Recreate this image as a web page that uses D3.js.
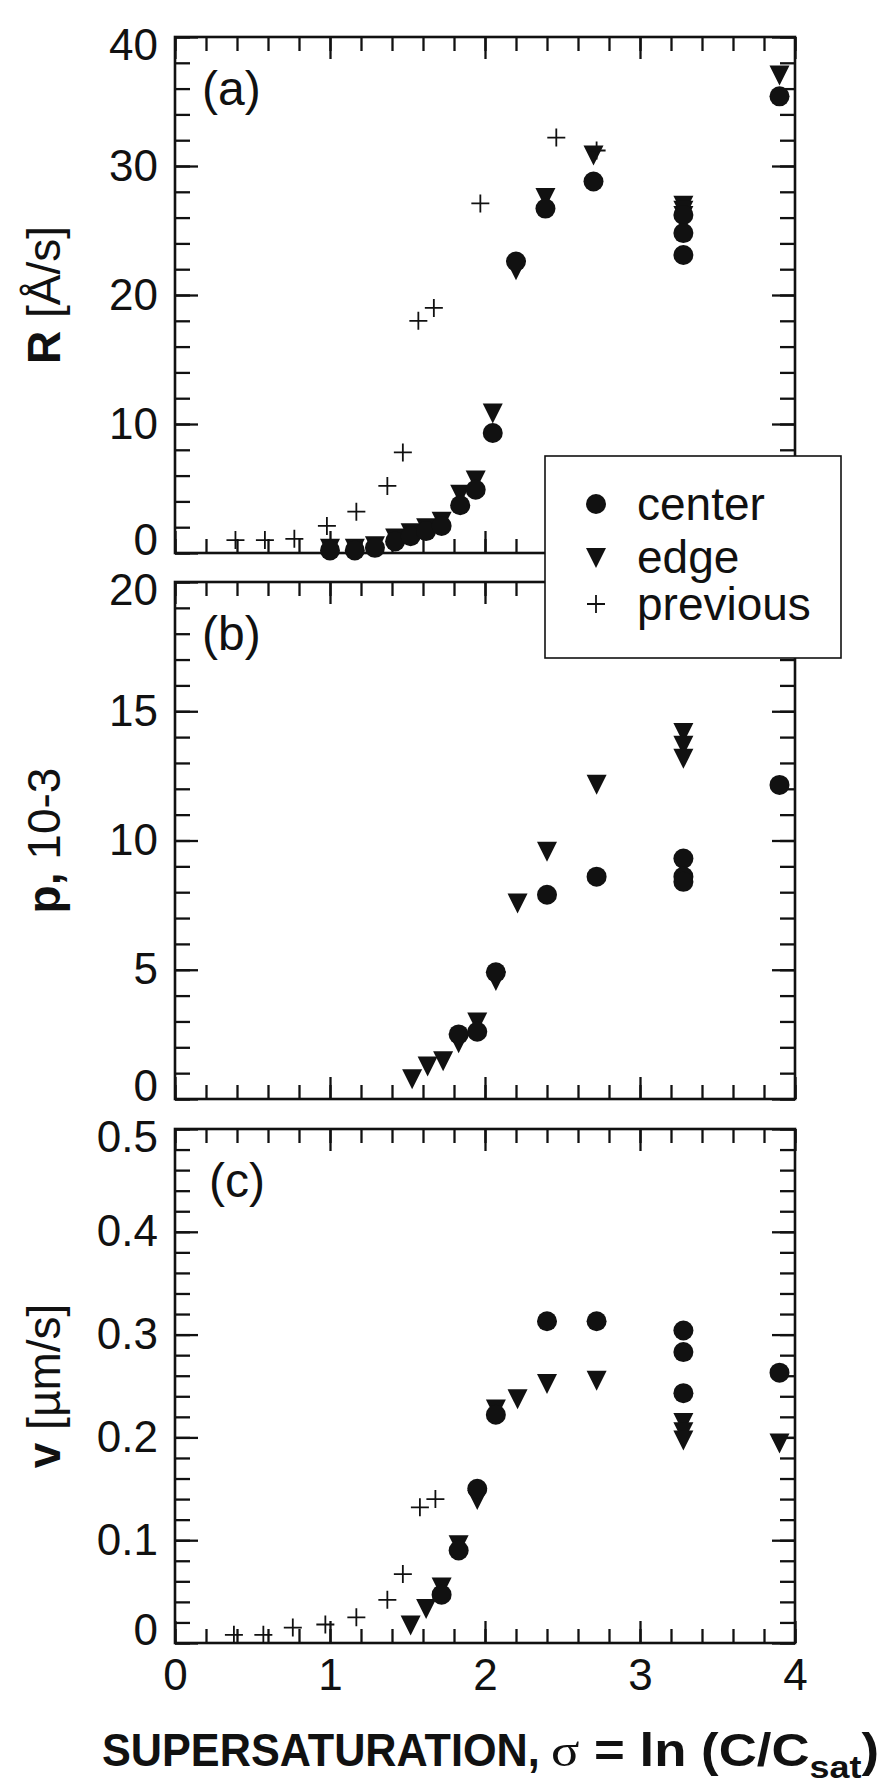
<!DOCTYPE html>
<html>
<head>
<meta charset="utf-8">
<script src="https://cdn.jsdelivr.net/npm/d3@7"></script>
<style>
  body { margin: 0; background: #fff; }
  svg text { font-family: "Liberation Sans", Arial, Helvetica, sans-serif; fill: #111; }
</style>
</head>
<body>
<div id="chart"></div>
<script>
// values (x = supersaturation sigma)
const xTickLabels = ["0", "1", "2", "3", "4"];

// (a) R [A/s]
const rTickLabels = ["0", "10", "20", "30", "40"];
const rCenterX = [1.00, 1.16, 1.29, 1.42, 1.52, 1.62, 1.72, 1.84, 1.94, 2.05, 2.20, 2.39, 2.70, 3.28, 3.28, 3.28, 3.90];
const rCenterY = [0.2, 0.2, 0.4, 0.9, 1.3, 1.7, 2.1, 3.7, 4.9, 9.3, 22.6, 26.7, 28.8, 26.2, 24.8, 23.1, 35.4];
const rEdgeX = [1.00, 1.16, 1.29, 1.42, 1.52, 1.62, 1.72, 1.84, 1.94, 2.05, 2.20, 2.39, 2.70, 3.28, 3.28, 3.28, 3.90];
const rEdgeY = [0.4, 0.4, 0.6, 1.2, 1.6, 2.0, 2.5, 4.6, 5.7, 10.9, 22.0, 27.6, 30.9, 27.0, 26.6, 26.2, 37.1];
const rPrevX = [0.39, 0.58, 0.77, 0.98, 1.17, 1.37, 1.47, 1.57, 1.67, 1.97, 2.46, 2.72];
const rPrevY = [1.0, 1.0, 1.1, 2.1, 3.2, 5.2, 7.8, 18.0, 19.0, 27.1, 32.2, 31.2];

// (b) p, 10-3
const pTickLabels = ["0", "5", "10", "15", "20"];
const pCenterX = [1.83, 1.95, 2.07, 2.40, 2.72, 3.28, 3.28, 3.28, 3.90];
const pCenterY = [2.5, 2.6, 4.9, 7.9, 8.6, 9.3, 8.6, 8.4, 12.15];
const pEdgeX = [1.53, 1.63, 1.73, 1.83, 1.95, 2.07, 2.21, 2.40, 2.72, 3.28, 3.28, 3.28];
const pEdgeY = [0.8, 1.3, 1.5, 2.2, 3.0, 4.6, 7.6, 9.6, 12.2, 14.2, 13.7, 13.2];

// (c) v [um/s]
const vTickLabels = ["0", "0.1", "0.2", "0.3", "0.4", "0.5"];
const vCenterX = [1.72, 1.83, 1.95, 2.07, 2.40, 2.72, 3.28, 3.28, 3.28, 3.90];
const vCenterY = [0.047, 0.090, 0.150, 0.222, 0.313, 0.313, 0.304, 0.283, 0.243, 0.263];
const vEdgeX = [1.52, 1.62, 1.72, 1.83, 1.95, 2.07, 2.21, 2.40, 2.72, 3.28, 3.28, 3.28, 3.90];
const vEdgeY = [0.018, 0.034, 0.055, 0.096, 0.140, 0.228, 0.238, 0.253, 0.256, 0.215, 0.206, 0.198, 0.195];
const vPrevX = [0.38, 0.57, 0.76, 0.97, 1.17, 1.37, 1.47, 1.58, 1.68];
const vPrevY = [0.008, 0.008, 0.015, 0.018, 0.025, 0.042, 0.067, 0.132, 0.140];

const W = 889, H = 1784;
const left = 175, right = 795;
const ink = "#111";

const svg = d3.select("#chart").append("svg")
    .attr("width", W)
    .attr("height", H);

svg.append("rect").attr("width", W).attr("height", H).attr("fill", "#fff");

const x = d3.scaleLinear().domain([0, 4]).range([left, right]);

const trianglePath = "M-10,-9L10,-9L0,11Z";

const panels = [
    {tag: "(a)", top: 37, bottom: 553, max: 40, major: 10, minor: 2, labels: rTickLabels,
     title: ["R", " [Å/s]"], tagX: 202,
     center: [rCenterX, rCenterY], edge: [rEdgeX, rEdgeY], prev: [rPrevX, rPrevY]},
    {tag: "(b)", top: 582, bottom: 1099, max: 20, major: 5, minor: 1, labels: pTickLabels,
     title: ["p,", " 10-3"], tagX: 202,
     center: [pCenterX, pCenterY], edge: [pEdgeX, pEdgeY], prev: null},
    {tag: "(c)", top: 1129, bottom: 1643, max: 0.5, major: 0.1, minor: 0.02, labels: vTickLabels,
     title: ["v", " [µm/s]"], tagX: 209,
     center: [vCenterX, vCenterY], edge: [vEdgeX, vEdgeY], prev: [vPrevX, vPrevY]}
];

const xMajor = d3.range(0, 4.001, 1);
const xMinor = d3.range(0, 4.001, 0.2);

panels.forEach((p, idx) => {
    const y = d3.scaleLinear().domain([0, p.max]).range([p.bottom, p.top]);
    const g = svg.append("g");

    const yMajor = d3.range(0, p.max + p.minor / 2, p.major);
    const yMinor = d3.range(0, p.max + p.minor / 2, p.minor);

    // inward ticks on all four sides
    function ticks(axisFn, scale, vals, size, transform) {
        const a = g.append("g")
            .attr("transform", transform)
            .call(axisFn(scale).tickValues(vals).tickSize(-size).tickFormat(""));
        a.select(".domain").remove();
        a.selectAll("line").attr("stroke", ink).attr("stroke-width", 2.3);
    }
    ticks(d3.axisLeft, y, yMinor, 15, `translate(${left},0)`);
    ticks(d3.axisLeft, y, yMajor, 23, `translate(${left},0)`);
    ticks(d3.axisRight, y, yMinor, 15, `translate(${right},0)`);
    ticks(d3.axisRight, y, yMajor, 23, `translate(${right},0)`);
    ticks(d3.axisTop, x, xMinor, 14, `translate(0,${p.top})`);
    ticks(d3.axisTop, x, xMajor, 22, `translate(0,${p.top})`);
    ticks(d3.axisBottom, x, xMinor, 14, `translate(0,${p.bottom})`);
    ticks(d3.axisBottom, x, xMajor, 22, `translate(0,${p.bottom})`);

    // frame
    g.append("rect")
        .attr("x", left).attr("y", p.top)
        .attr("width", right - left).attr("height", p.bottom - p.top)
        .attr("fill", "none").attr("stroke", ink).attr("stroke-width", 2.6);

    // y tick labels
    const yl = g.append("g")
        .attr("transform", `translate(${left},0)`)
        .call(d3.axisLeft(y).tickValues(yMajor).tickSize(0).tickPadding(17)
            .tickFormat((d, i) => p.labels[i]));
    yl.select(".domain").remove();
    yl.attr("font-size", 44).attr("font-family", null);
    // end labels are nudged inward, as in the original, so stacked panels do not collide
    yl.selectAll("text")
        .filter(d => d === 0)
        .attr("dy", "0.04em");
    yl.selectAll("text")
        .filter(d => Math.abs(d - p.max) < 1e-9)
        .attr("dy", "0.52em");

    // y title
    const t = g.append("text")
        .attr("transform", `translate(60,${(p.top + p.bottom) / 2}) rotate(-90)`)
        .attr("text-anchor", "middle")
        .attr("font-size", 46);
    t.append("tspan").attr("font-weight", "bold").text(p.title[0]);
    t.append("tspan").text(p.title[1]);

    // panel tag
    g.append("text")
        .attr("x", p.tagX).attr("y", p.top + 68)
        .attr("font-size", 48)
        .text(p.tag);

    // markers
    const centers = p.center[0].map((d, i) => ({x: d, y: p.center[1][i]}));
    const edges = p.edge[0].map((d, i) => ({x: d, y: p.edge[1][i]}));

    g.selectAll(".edge")
        .data(edges)
        .enter().append("path")
        .attr("class", "edge")
        .attr("d", trianglePath)
        .attr("transform", d => `translate(${x(d.x)},${y(d.y)})`)
        .attr("fill", ink);

    g.selectAll(".center")
        .data(centers)
        .enter().append("circle")
        .attr("class", "center")
        .attr("cx", d => x(d.x))
        .attr("cy", d => y(d.y))
        .attr("r", 10)
        .attr("fill", ink);

    if (p.prev) {
        const prevs = p.prev[0].map((d, i) => ({x: d, y: p.prev[1][i]}));
        g.selectAll(".prev")
            .data(prevs)
            .enter().append("path")
            .attr("class", "prev")
            .attr("d", "M-9,0H9M0,-9V9")
            .attr("transform", d => `translate(${x(d.x)},${y(d.y)})`)
            .attr("stroke", ink)
            .attr("stroke-width", 1.8)
            .attr("fill", "none");
    }

    // x tick labels only under the last panel
    if (idx === panels.length - 1) {
        const xl = g.append("g")
            .attr("transform", `translate(0,${p.bottom})`)
            .call(d3.axisBottom(x).tickValues(xMajor).tickSize(0).tickPadding(16)
                .tickFormat((d, i) => xTickLabels[i]));
        xl.select(".domain").remove();
        xl.attr("font-size", 44).attr("font-family", null);
    }
});

// x axis title (the original type is a narrow bold face)
svg.append("text")
    .attr("transform", "translate(102,1766) scale(0.92,1)")
    .attr("font-size", 47).attr("font-weight", "bold")
    .text("SUPERSATURATION,");

const t2 = svg.append("text")
    .attr("x", 551).attr("y", 1766)
    .attr("font-size", 47).attr("font-weight", "bold")
    .attr("textLength", 328).attr("lengthAdjust", "spacingAndGlyphs");
t2.append("tspan").attr("font-family", "'Liberation Serif', 'DejaVu Serif', serif")
    .attr("font-weight", "normal").text("σ");
t2.append("tspan").text(" = ln (C/C");
t2.append("tspan").attr("font-size", 32).attr("dy", 12).text("sat");
t2.append("tspan").attr("dy", -12).text(")");

// legend
const legend = svg.append("g");
legend.append("rect")
    .attr("x", 545).attr("y", 456)
    .attr("width", 296).attr("height", 202)
    .attr("fill", "#fff").attr("stroke", ink).attr("stroke-width", 1.6);

const legendItems = [
    {label: "center", type: "circle"},
    {label: "edge", type: "triangle"},
    {label: "previous", type: "plus"}
];
const rowY = [504, 557, 604];

legendItems.forEach((item, i) => {
    const row = legend.append("g").attr("transform", `translate(596,${rowY[i]})`);
    if (item.type === "circle") {
        row.append("circle").attr("r", 10).attr("fill", ink);
    } else if (item.type === "triangle") {
        row.append("path").attr("d", trianglePath).attr("fill", ink);
    } else {
        row.append("path").attr("d", "M-9,0H9M0,-9V9")
            .attr("stroke", ink).attr("stroke-width", 1.8);
    }
    row.append("text")
        .attr("x", 41).attr("dy", "0.35em")
        .attr("font-size", 46)
        .text(item.label);
});
</script>
</body>
</html>
